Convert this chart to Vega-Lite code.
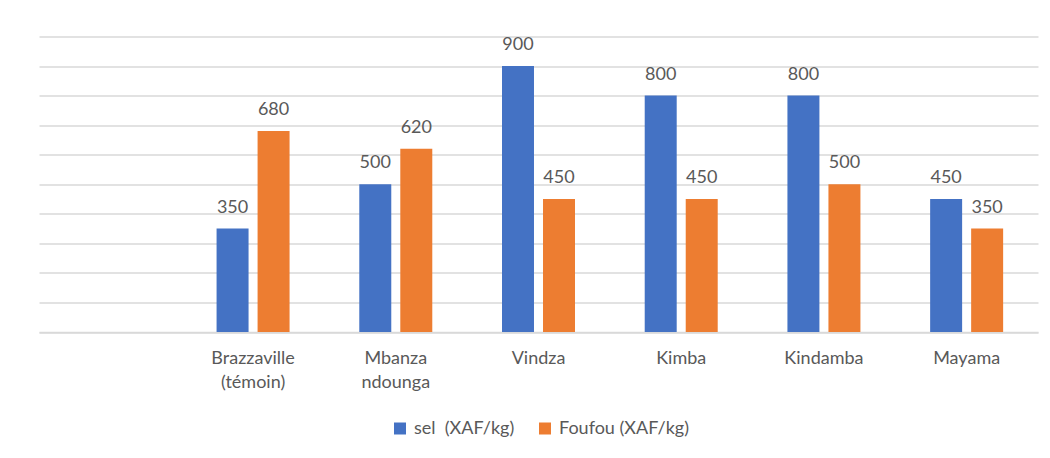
{
  "$schema": "https://vega.github.io/schema/vega-lite/v6.json",
  "width": 999,
  "height": 295.5,
  "autosize": "none",
  "padding": {"left": 39, "top": 36.5, "right": 12, "bottom": 126},
  "background": "white",
  "config": {"view": {"stroke": null}, "font": "Lato"},
  "data": {
    "values": [
      {"site": "Brazzaville (témoin)", "serie": "sel\u00a0 (XAF/kg)", "prix": 350},
      {"site": "Brazzaville (témoin)", "serie": "Foufou (XAF/kg)", "prix": 680},
      {"site": "Mbanza ndounga", "serie": "sel\u00a0 (XAF/kg)", "prix": 500},
      {"site": "Mbanza ndounga", "serie": "Foufou (XAF/kg)", "prix": 620},
      {"site": "Vindza", "serie": "sel\u00a0 (XAF/kg)", "prix": 900},
      {"site": "Vindza", "serie": "Foufou (XAF/kg)", "prix": 450},
      {"site": "Kimba", "serie": "sel\u00a0 (XAF/kg)", "prix": 800},
      {"site": "Kimba", "serie": "Foufou (XAF/kg)", "prix": 450},
      {"site": "Kindamba", "serie": "sel\u00a0 (XAF/kg)", "prix": 800},
      {"site": "Kindamba", "serie": "Foufou (XAF/kg)", "prix": 500},
      {"site": "Mayama", "serie": "sel\u00a0 (XAF/kg)", "prix": 450},
      {"site": "Mayama", "serie": "Foufou (XAF/kg)", "prix": 350}
    ]
  },
  "encoding": {
    "x": {
      "field": "site",
      "type": "nominal",
      "scale": {
        "domain": ["", "Brazzaville (témoin)", "Mbanza ndounga", "Vindza", "Kimba", "Kindamba", "Mayama"],
        "paddingInner": 0,
        "paddingOuter": 0
      },
      "axis": {
        "title": null,
        "labelAngle": 0,
        "ticks": false,
        "domainColor": "#d9d9d9",
        "domainWidth": 1.5,
        "labelColor": "#595959",
        "labelFontSize": 18,
        "labelPadding": 17,
        "labelLineHeight": 24,
        "labelLimit": 0,
        "labelExpr": "split(datum.label, ' ')"
      }
    },
    "xOffset": {
      "field": "serie",
      "type": "nominal",
      "scale": {"domain": ["sel\u00a0 (XAF/kg)", "Foufou (XAF/kg)"], "paddingInner": 0.22, "paddingOuter": 0.85}
    },
    "y": {
      "field": "prix",
      "type": "quantitative",
      "scale": {"domain": [0, 1000], "nice": false},
      "axis": {
        "title": null,
        "labels": false,
        "ticks": false,
        "domain": false,
        "values": [0, 100, 200, 300, 400, 500, 600, 700, 800, 900, 1000],
        "gridColor": "#d9d9d9",
        "gridWidth": 1.5
      }
    }
  },
  "layer": [
    {
      "mark": {"type": "bar"},
      "encoding": {
        "color": {
          "field": "serie",
          "type": "nominal",
          "scale": {"domain": ["sel\u00a0 (XAF/kg)", "Foufou (XAF/kg)"], "range": ["#4472C4", "#ED7D31"]},
          "legend": {
            "title": null,
            "orient": "none",
            "legendX": 352,
            "legendY": 383,
            "direction": "horizontal",
            "symbolType": "square",
            "symbolSize": 144,
            "symbolStrokeWidth": 0,
            "symbolOpacity": 1,
            "labelFontSize": 18,
            "labelColor": "#595959",
            "labelOffset": 5,
            "columnPadding": 21,
            "labelLimit": 0
          }
        }
      }
    },
    {
      "mark": {"type": "text", "baseline": "alphabetic", "dy": -16, "fontSize": 18, "color": "#595959"},
      "encoding": {"text": {"field": "prix", "type": "quantitative"}}
    }
  ]
}
